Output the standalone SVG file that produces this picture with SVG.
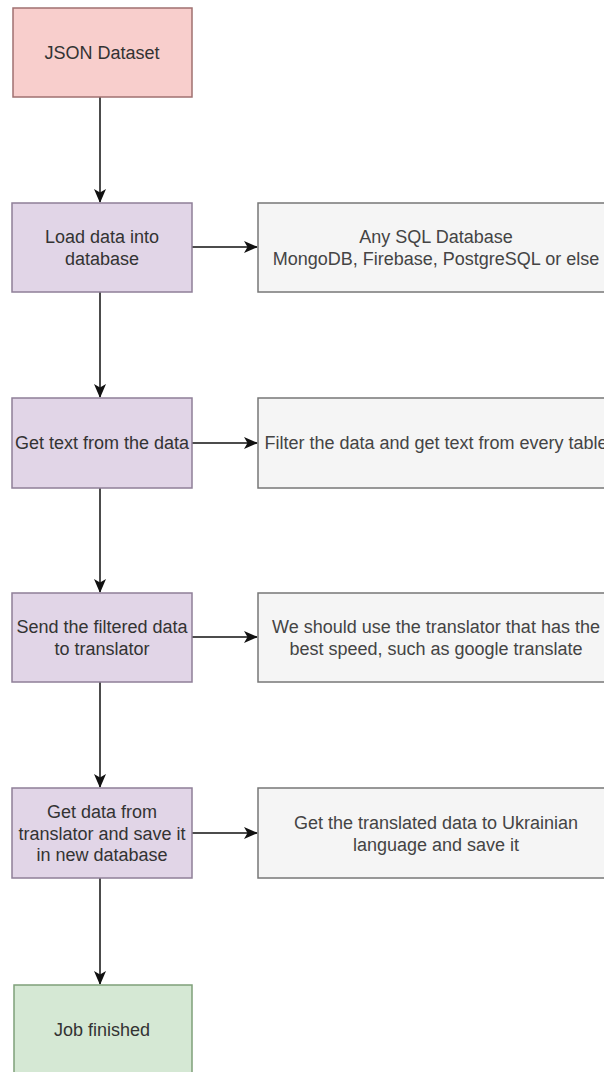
<svg xmlns="http://www.w3.org/2000/svg" width="604" height="1072" viewBox="0 0 604 1072">
<style>
text{font-family:"Liberation Sans",Arial,sans-serif;font-size:18px;fill:#333;text-anchor:middle}
.light{fill:#444}
.pink{fill:#f8cecc;stroke:#a07070;stroke-width:1.5}
.purple{fill:#e1d5e7;stroke:#8f7f98;stroke-width:1.5}
.gray{fill:#f5f5f5;stroke:#777;stroke-width:1.5}
.green{fill:#d5e8d4;stroke:#7fa07a;stroke-width:1.5}
.edge{stroke:#111;stroke-width:1.5;fill:none;marker-end:url(#arr)}
</style>
<defs>
<marker id="arr" viewBox="0 0 14 12" refX="13" refY="6" markerWidth="14" markerHeight="12" markerUnits="userSpaceOnUse" orient="auto">
<path d="M0,0 L14,6 L0,12 L3.5,6 Z" fill="#111"/>
</marker>
</defs>
<rect width="604" height="1072" fill="#fff"/>
<g id="connectors">
<path class="edge" d="M100,97 V202"/>
<path class="edge" d="M100,292 V397"/>
<path class="edge" d="M100,488 V592"/>
<path class="edge" d="M100,682 V787"/>
<path class="edge" d="M100,878 V984"/>
<path class="edge" d="M192,247 H257"/>
<path class="edge" d="M192,443 H257"/>
<path class="edge" d="M192,637 H257"/>
<path class="edge" d="M192,833 H257"/>
</g>
<g id="json-dataset"><rect class="pink" x="13" y="8" width="179" height="89"/><text x="102" y="59">JSON Dataset</text></g>
<g id="load-data"><rect class="purple" x="12" y="203" width="180" height="89"/><text x="102" y="243">Load data into</text><text x="102" y="265">database</text></g>
<g id="any-sql"><rect class="gray" x="258" y="203" width="360" height="89"/><text class="light" x="436" y="243">Any SQL Database</text><text class="light" x="436" y="265">MongoDB, Firebase, PostgreSQL or else</text></g>
<g id="get-text"><rect class="purple" x="12" y="398" width="180" height="90"/><text x="102" y="449">Get text from the data</text></g>
<g id="filter"><rect class="gray" x="258" y="398" width="360" height="90"/><text class="light" x="436" y="449">Filter the data and get text from every table</text></g>
<g id="send-filtered"><rect class="purple" x="12" y="593" width="180" height="89"/><text x="102" y="633">Send the filtered data</text><text x="102" y="655">to translator</text></g>
<g id="use-translator"><rect class="gray" x="258" y="593" width="360" height="89"/><text class="light" x="436" y="633">We should use the translator that has the</text><text class="light" x="436" y="655">best speed, such as google translate</text></g>
<g id="get-data"><rect class="purple" x="12" y="788" width="180" height="90"/><text x="102" y="818">Get data from</text><text x="102" y="840">translator and save it</text><text x="102" y="861">in new database</text></g>
<g id="translated"><rect class="gray" x="258" y="788" width="360" height="90"/><text class="light" x="436" y="829">Get the translated data to Ukrainian</text><text class="light" x="436" y="851">language and save it</text></g>
<g id="job-finished"><rect class="green" x="14" y="985" width="178" height="95"/><text x="102" y="1036">Job finished</text></g>
</svg>
